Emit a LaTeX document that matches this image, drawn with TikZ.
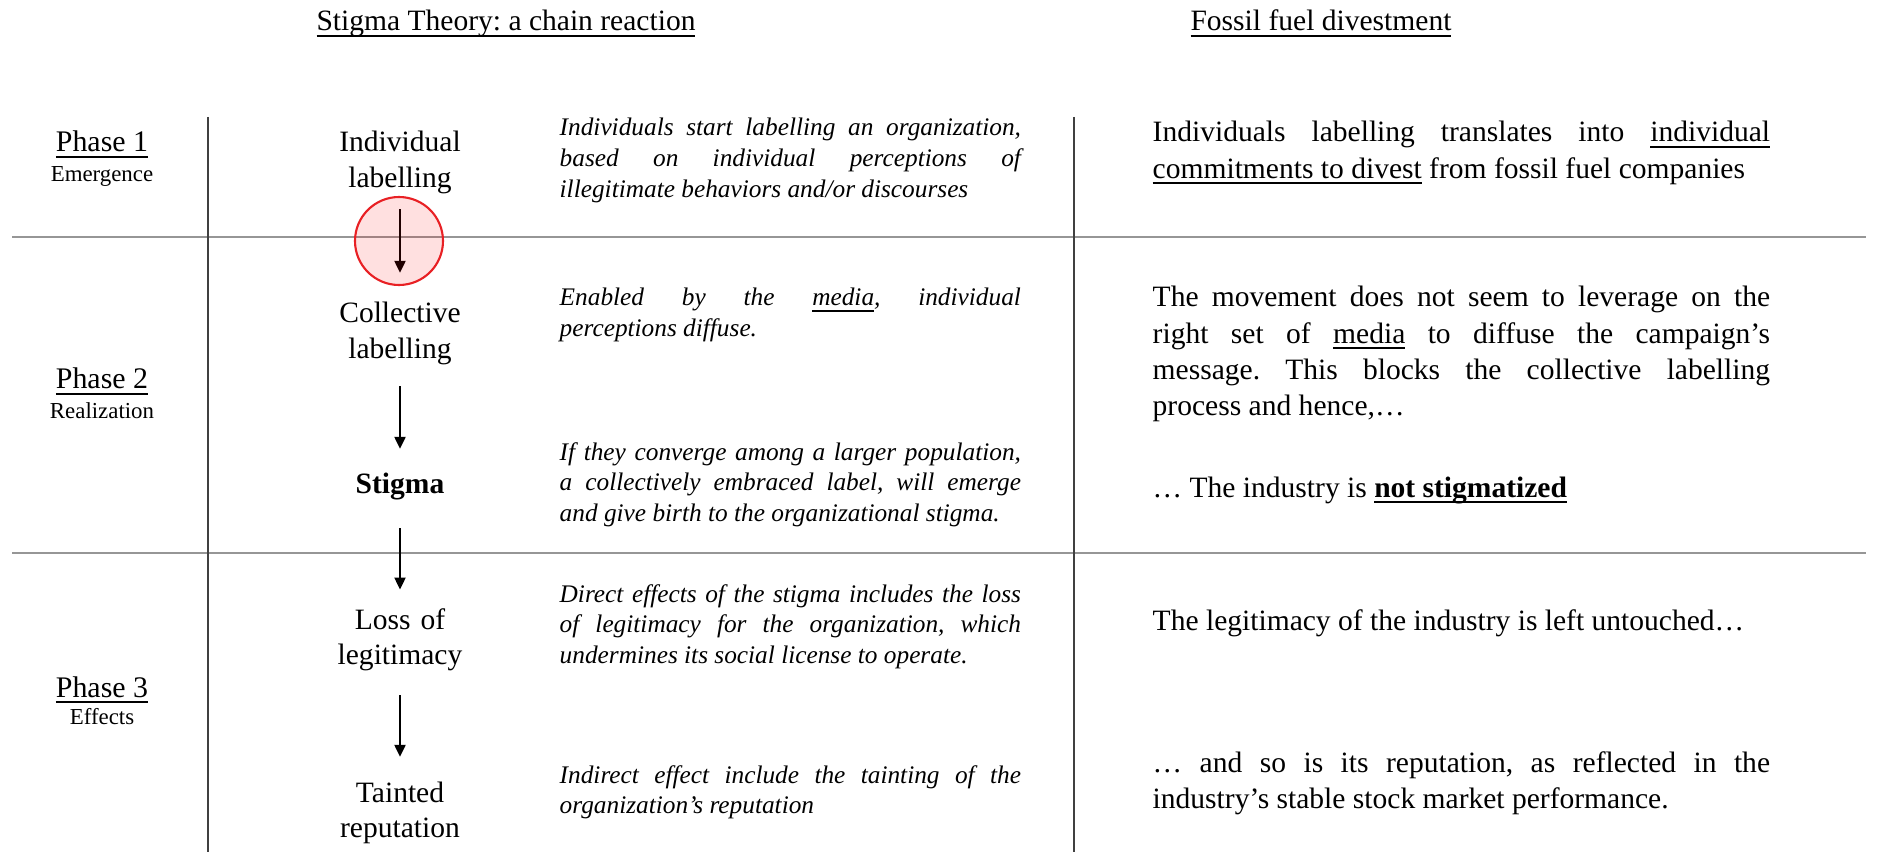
\documentclass[tikz,border=0pt]{standalone}
\usepackage{fontspec}
\setmainfont{Liberation Serif}
\usetikzlibrary{arrows.meta}
\definecolor{ringred}{RGB}{232,32,36}
\definecolor{rulegray}{RGB}{150,150,150}
\hyphenpenalty=10000
\exhyphenpenalty=10000
\frenchspacing
% underline just under the baseline, descenders cross it
\newcommand\uln[1]{\underline{\smash{#1}}}

\begin{document}
\begin{tikzpicture}[x=0.01cm, y=-0.01cm,
    stage/.style={inner sep=0pt, text width=3cm, align=center, anchor=base, font=\fontsize{8.4}{9.96}\selectfont},
    phase/.style={inner sep=0pt, anchor=base, font=\fontsize{8.5}{10}\selectfont},
    phasesub/.style={inner sep=0pt, anchor=base, font=\fontsize{6.5}{8}\selectfont},
    note/.style={inner sep=0pt, text width=4.61cm, align=justify, anchor=base west, font=\fontsize{7.2}{8.7}\selectfont\itshape},
    fossil/.style={inner sep=0pt, text width=6.17cm, align=justify, anchor=base west, font=\fontsize{8.4}{10.24}\selectfont},
    flow/.style={-{Triangle[length=3.4pt,width=3.2pt]}, line width=0.4pt},
    rule/.style={rulegray, line width=0.5pt},
    divider/.style={black!75, line width=0.4pt},
    ring/.style={draw=ringred, line width=0.6pt, fill=red, fill opacity=0.12}]
    \useasboundingbox (0,0) rectangle (1888,852);

    % table rules
    \draw[rule] (12,237) -- (1866,237);
    \draw[rule] (12,553) -- (1866,553);
    \draw[divider] (208,117) -- (208,852);
    \draw[divider] (1074,117) -- (1074,852);

    % column heads
    \node (theory) at (506,31) [anchor=base, font=\fontsize{8.4}{10}\selectfont] {\uln{Stigma Theory: a chain reaction}};
    \node (divest) at (1321,31) [anchor=base, font=\fontsize{8.4}{10}\selectfont] {\uln{Fossil fuel divestment}};

    % phases
    \node (ph1) at (102,152) [phase] {\uln{Phase 1}};
    \node (ph1sub) at (102,182) [phasesub] {Emergence};
    \node (ph2) at (102,389) [phase] {\uln{Phase 2}};
    \node (ph2sub) at (102,419) [phasesub] {Realization};
    \node (ph3) at (102,697) [phase] {\uln{Phase 3}};
    \node (ph3sub) at (102,724) [phasesub] {Effects};

    % chain reaction
    \node (indiv) at (400,152) [stage] {Individual\\labelling};
    \node (coll) at (400,323) [stage] {Collective\\labelling};
    \node (stigma) at (400,493) [stage] {\textbf{Stigma}};
    \node (loss) at (400,629) [stage] {Loss of\\legitimacy};
    \node (taint) at (400,802) [stage] {Tainted\\reputation};

    \draw[flow, shorten <=0.15cm, shorten >=0.29cm] (indiv) -- (coll);
    \draw[flow, shorten <=0.21cm, shorten >=0.23cm] (coll) -- (stigma);
    \draw[flow, shorten <=0.28cm, shorten >=0.18cm] (stigma) -- (loss);
    \draw[flow, shorten <=0.24cm, shorten >=0.24cm] (loss) -- (taint);
    \draw[ring] (399,241) circle [radius=44];

    % what each step means
    \node (n1) at (559,136) [note] {Individuals start labelling an organization,\linebreak based on individual perceptions of\linebreak illegitimate behaviors and/or discourses};
    \node (n2) at (559,306) [note] {Enabled by the \uln{media}, individual\linebreak perceptions diffuse.};
    \node (n3) at (559,460) [note] {If they converge among a larger population,\linebreak a collectively embraced label, will emerge\linebreak and give birth to the organizational stigma.};
    \node (n4) at (559,602) [note] {Direct effects of the stigma includes the loss\linebreak of legitimacy for the organization, which\linebreak undermines its social license to operate.};
    \node (n5) at (559,783) [note] {Indirect effect include the tainting of the\linebreak organization's reputation};

    % divestment side
    \node (r1) at (1152,142) [fossil] {Individuals labelling translates into \uln{individual}\linebreak \uln{commitments to divest} from fossil fuel companies};
    \node (r2) at (1152,307) [fossil] {The movement does not seem to leverage on the\linebreak right set of \uln{media} to diffuse the campaign's\linebreak message. This blocks the collective labelling\linebreak process and hence,…};
    \node (r3) at (1152,497) [fossil] {… The industry is \uln{\textbf{not stigmatized}}};
    \node (r4) at (1152,630) [fossil] {The legitimacy of the industry is left untouched…};
    \node (r5) at (1152,772) [fossil] {… and so is its reputation, as reflected in the\linebreak industry's stable stock market performance.};
\end{tikzpicture}
\end{document}
